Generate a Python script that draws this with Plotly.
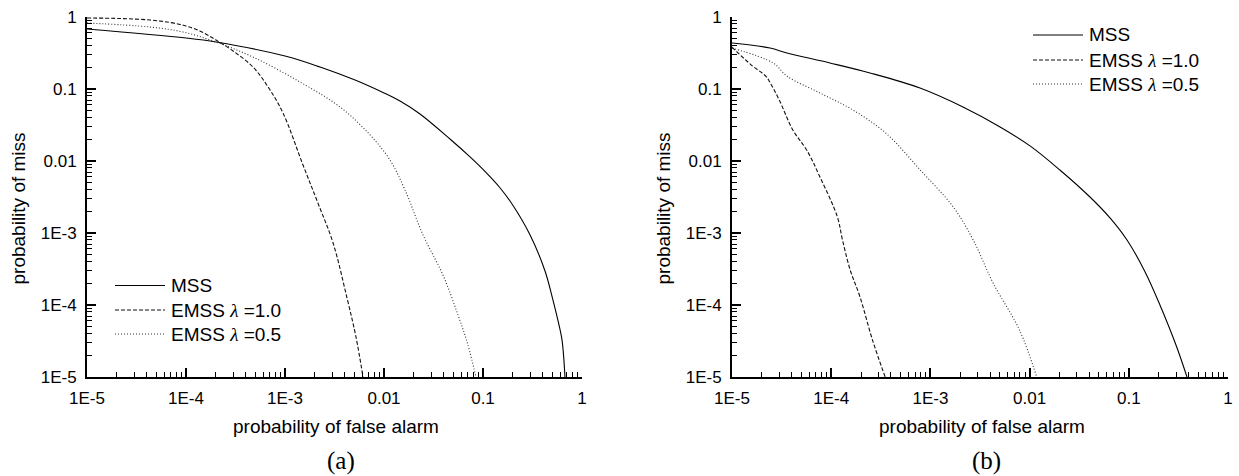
import plotly.graph_objects as go

# ---- data: probability of false alarm (x) vs probability of miss (y) ----
# panel (a)
mss_a_x = [1e-5, 1e-4, 2.01e-4, 1e-3, 2.26e-3, 5.1e-3, 0.01, 0.0145, 0.0231,
           0.0464, 0.074, 0.1, 0.149, 0.201, 0.299, 0.423, 0.509, 0.573, 0.628, 0.673]
mss_a_y = [0.681, 0.511, 0.450, 0.287, 0.202, 0.133, 0.088, 0.068, 0.045,
           0.0202, 0.0114, 0.00764, 0.00422, 0.00241, 9.38e-4, 2.97e-4, 1.17e-4,
           6.0e-5, 3.27e-5, 1e-5]

emss1_a_x = [1e-5, 2.15e-5, 4.33e-5, 6.89e-5, 1e-4, 1.38e-4, 2.01e-4, 2.99e-4,
             4.75e-4, 6.74e-4, 9.55e-4, 1.52e-3, 2.15e-3, 3.06e-3, 4.23e-3,
             5.21e-3, 6.14e-3]
emss1_a_y = [0.968, 0.953, 0.908, 0.839, 0.750, 0.639, 0.479, 0.337,
             0.202, 0.107, 0.0464, 0.0088, 0.00261, 7.26e-4, 1.25e-4,
             3.6e-5, 1e-5]

emss05_a_x = [1e-5, 4.33e-5, 9.33e-5, 2.01e-4, 4.75e-4, 1.42e-3, 3.6e-3, 7.23e-3,
              0.0115, 0.0163, 0.0248, 0.0394, 0.0559, 0.0705, 0.0849]
emss05_a_y = [0.825, 0.726, 0.619, 0.450, 0.278, 0.125, 0.0562, 0.0230,
              0.0103, 0.00396, 9.38e-4, 2.61e-4, 7.26e-5, 2.78e-5, 1e-5]

# panel (b)
mss_b_x = [1e-5, 2.42e-5, 3.58e-5, 9.7e-5, 2.46e-4, 7.85e-4, 2.13e-3, 5.04e-3,
           0.0101, 0.0202, 0.0406, 0.0646, 0.0959, 0.146, 0.206, 0.299, 0.386]
mss_b_y = [0.435, 0.371, 0.316, 0.230, 0.167, 0.103, 0.0562, 0.0297,
           0.0162, 0.0075, 0.00316, 0.00162, 8.0e-4, 2.88e-4, 1.0e-4, 2.78e-5, 1e-5]

emss1_b_x = [1e-5, 1.6e-5, 2.2e-5, 2.4e-5, 3e-5, 4.1e-5, 5.7e-5, 7.7e-5, 1.15e-4,
             1.3e-4, 1.55e-4, 1.95e-4, 2.6e-4, 3.5e-4]
emss1_b_y = [0.38, 0.21, 0.15, 0.125, 0.07, 0.027, 0.014, 0.006, 1.7e-3,
             8e-4, 3.1e-4, 1.3e-4, 3.3e-5, 1e-5]

emss05_b_x = [1e-5, 2.6e-5, 3.6e-5, 7.7e-5, 1.66e-4, 3.6e-4, 7.9e-4, 1.7e-3,
              2.7e-3, 4.3e-3, 7.9e-3, 0.0118]
emss05_b_y = [0.37, 0.23, 0.15, 0.088, 0.051, 0.024, 0.0075, 2.3e-3,
              8e-4, 2e-4, 4.5e-5, 1e-5]

# ---- axis ticks ----
tick_vals = [1e-5, 1e-4, 1e-3, 1e-2, 1e-1, 1]
tick_text = ["1E-5", "1E-4", "1E-3", "0.01", "0.1", "1"]
minor_vals = [m * d for d in tick_vals[:-1] for m in range(2, 10)]

LAMBDA = "<span style='font-family:Liberation Serif'><i>λ</i></span>"
series_names = ["MSS", f"EMSS {LAMBDA} =1.0", f"EMSS {LAMBDA} =0.5"]
dash_styles = ["solid", "4px,2px", "1px,2px"]
line_colors = ["#000000", "#111111", "#333333"]

W, H = 1239, 476
FONT = "Liberation Sans, Arial, sans-serif"

fig = go.Figure()

panels = [
    ("x", "y", [(mss_a_x, mss_a_y), (emss1_a_x, emss1_a_y), (emss05_a_x, emss05_a_y)]),
    ("x2", "y2", [(mss_b_x, mss_b_y), (emss1_b_x, emss1_b_y), (emss05_b_x, emss05_b_y)]),
]
for xa, ya, series in panels:
    for (xs, ys), dash, col in zip(series, dash_styles, line_colors):
        fig.add_trace(go.Scatter(
            x=xs, y=ys, xaxis=xa, yaxis=ya, mode="lines",
            line=dict(color=col, width=1.1, dash=dash, shape="spline", smoothing=1.0),
            showlegend=False, hoverinfo="skip",
        ))


def px_x(p):
    return p / W


def px_y(p):
    return 1 - p / H


axis_common = dict(
    type="log", range=[-5, 0], automargin=False,
    showline=True, linecolor="black", linewidth=2,
    showgrid=False, zeroline=False, mirror=False,
    ticks="inside", ticklen=9, tickwidth=1.5, tickcolor="black",
    tickmode="array", tickvals=tick_vals, ticktext=tick_text,
    tickfont=dict(family=FONT, size=17, color="black"),
    ticklabelstandoff=5,
    minor=dict(ticks="inside", ticklen=5, tickwidth=1.2, tickcolor="black",
               tickmode="array", tickvals=minor_vals, showgrid=False),
)

y_dom = [px_y(377), px_y(17)]
fig.update_layout(
    template="none",
    width=W, height=H, margin=dict(l=0, r=0, t=0, b=0, autoexpand=False),
    paper_bgcolor="white", plot_bgcolor="white",
    xaxis=dict(domain=[px_x(87), px_x(582)], anchor="y", **axis_common),
    yaxis=dict(domain=y_dom, anchor="x", **axis_common),
    xaxis2=dict(domain=[px_x(732), px_x(1228)], anchor="y2", **axis_common),
    yaxis2=dict(domain=y_dom, anchor="x2", **axis_common),
)

annotations = []
shapes = []
# axis titles and panel captions
for ax_left, ax_right, cap in [(87, 582, "(a)"), (732, 1228, "(b)")]:
    cx = (ax_left + ax_right) / 2
    annotations.append(dict(
        x=px_x(cx + 1.5), y=px_y(426), xref="paper", yref="paper", showarrow=False,
        text="probability of false alarm", xanchor="center", yanchor="middle",
        font=dict(family=FONT, size=19, color="black")))
    annotations.append(dict(
        x=px_x(ax_left - 69.5), y=px_y(209), xref="paper", yref="paper", showarrow=False,
        text="probability of miss", textangle=-90, xanchor="center", yanchor="middle",
        font=dict(family=FONT, size=19, color="black")))
    annotations.append(dict(
        x=px_x(cx + 6), y=px_y(461), xref="paper", yref="paper", showarrow=False,
        text=cap, xanchor="center", yanchor="middle",
        font=dict(family="Liberation Serif, Times New Roman, serif", size=25, color="black")))

# legend blocks: (line start x, line end x, text x, row y positions)
legend_blocks = [
    (115, 165, 169, [285.5, 310, 334]),
    (1033, 1083, 1087, [35, 60, 84]),
]
for x0, x1, xt, rows in legend_blocks:
    for name, dash, col, ry in zip(series_names, dash_styles, line_colors, rows):
        shapes.append(dict(
            type="line", xref="paper", yref="paper",
            x0=px_x(x0), x1=px_x(x1), y0=px_y(ry), y1=px_y(ry),
            line=dict(color=col, width=1.1, dash=dash)))
        annotations.append(dict(
            x=px_x(xt), y=px_y(ry), xref="paper", yref="paper", showarrow=False,
            text=name, xanchor="left", yanchor="middle",
            font=dict(family=FONT, size=19, color="black")))

fig.update_layout(annotations=annotations, shapes=shapes)

fig.write_html("out.html")
